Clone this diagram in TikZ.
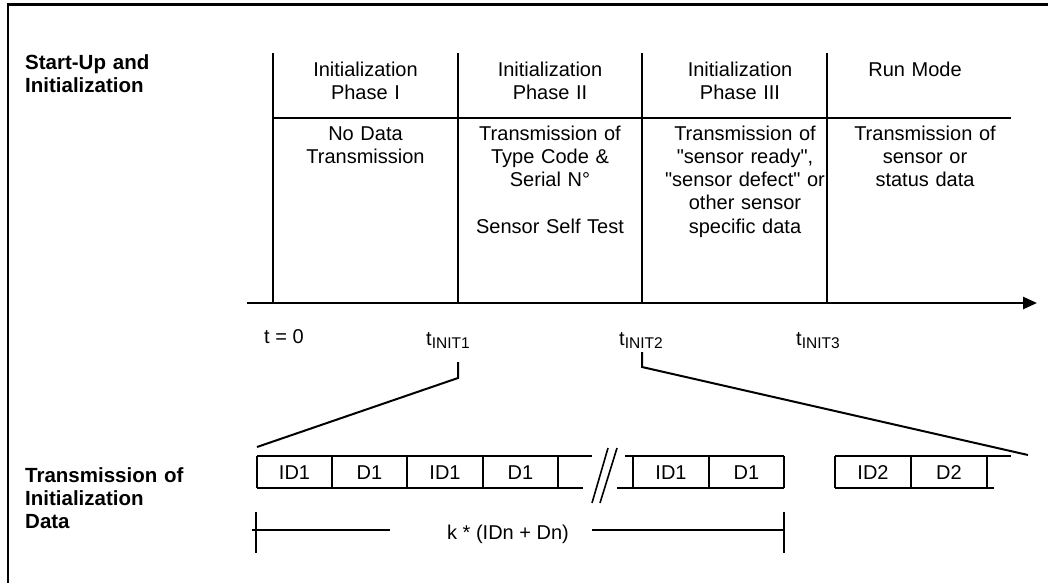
\documentclass[tikz,border=0pt]{standalone}
\usepackage{fontspec}
\setmainfont{Liberation Sans}[Ligatures=TeXOff]
\usetikzlibrary{arrows.meta}
\newcommand\tinitlabel[1]{t\raisebox{-3pt}{\fontsize{15.5}{15.5}\selectfont INIT#1}}
\begin{document}
\begin{tikzpicture}[x=1pt,y=-1pt,
  ln/.style={line width=2pt},
  txt/.style={font=\fontsize{20}{23.3}\selectfont, inner sep=0pt, anchor=base, align=center, text width=182pt},
  one/.style={font=\fontsize{20}{23.3}\selectfont, inner sep=0pt, anchor=base},
  lbl/.style={font=\bfseries\fontsize{20.5}{23}\selectfont, inner sep=0pt, anchor=base west, align=left, text width=220pt},
]
\useasboundingbox (0,0) rectangle (1048,582);
% frame
\draw[line width=2.5pt] (8,583) -- (8,4.5) -- (1049,4.5);
% side labels
\node[lbl] (lab1) at (25,69) {Start-Up and\\Initialization};
\node[lbl] (lab2) at (25,482) {Transmission of\\Initialization\\Data};
% table
\coordinate (v1t) at (273,53); \coordinate (v1b) at (273,303);
\coordinate (v2t) at (458,53); \coordinate (v2b) at (458,303);
\coordinate (v3t) at (642,53); \coordinate (v3b) at (642,303);
\coordinate (v4t) at (827,53); \coordinate (v4b) at (827,303);
\coordinate (rl) at (273,118); \coordinate (rr) at (1011,118);
\draw[ln] (v1t) -- (v1b) (v2t) -- (v2b) (v3t) -- (v3b) (v4t) -- (v4b);
\draw[ln] (rl) -- (rr);
\coordinate (ax0) at (247,303); \coordinate (ax1) at (1037,303);
\draw[line width=2.5pt, -{Triangle[length=14pt,width=12pt]}] (ax0) -- (ax1);
% table texts
\node[txt] (p1h) at (365.5,76) {Initialization\\Phase I};
\node[txt] (p2h) at (550,76) {Initialization\\Phase II};
\node[txt] (p3h) at (740,76) {Initialization\\Phase III};
\node[txt] (p4h) at (915,76) {Run Mode};
\node[txt] (p1d) at (365.5,140) {No Data\\Transmission};
\node[txt] (p2d) at (550,140) {Transmission of\\Type Code \&\\Serial N°\\[23.3pt]Sensor Self Test};
\node[txt] (p3d) at (745,140) {Transmission of\\"sensor ready",\\"sensor defect" or\\other sensor\\specific data};
\node[txt] (p4d) at (925,140) {Transmission of\\sensor or\\status data};
% time labels
\node[one, anchor=base west] (t0) at (264,343) {t = 0};
\node[one, anchor=base west] (t1) at (426,345) {\tinitlabel{1}};
\node[one, anchor=base west] (t2) at (619,345) {\tinitlabel{2}};
\node[one, anchor=base west] (t3) at (796,345) {\tinitlabel{3}};
% zoom connectors
\coordinate (z1a) at (458,362); \coordinate (z1b) at (458,378); \coordinate (z1c) at (257,447);
\coordinate (z2a) at (642,352); \coordinate (z2b) at (642,367); \coordinate (z2c) at (1028,455);
\draw[ln] (z1a) -- (z1b) -- (z1c);
\draw[ln] (z2a) -- (z2b) -- (z2c);
% frame row segment 1
\draw[ln] (257,456) -- (592,456);
\draw[ln] (257,488) -- (583,488);
\foreach \x in {257,332,407,483,558} \draw[ln] (\x,456) -- (\x,488);
% break marks
\draw[line width=1.6pt] (592,503) -- (608,448);
\draw[line width=1.6pt] (600,503) -- (617,448);
% segment 2
\draw[ln] (625,456) -- (784,456);
\draw[ln] (617,488) -- (784,488);
\foreach \x in {633,709,784} \draw[ln] (\x,456) -- (\x,488);
% segment 3
\draw[ln] (835,456) -- (1011,456);
\draw[ln] (835,488) -- (994,488);
\foreach \x in {835,911,987} \draw[ln] (\x,456) -- (\x,488);
% cell texts
\node[one] (c1) at (294.5,479) {ID1};
\node[one] (c2) at (369.5,479) {D1};
\node[one] (c3) at (445,479) {ID1};
\node[one] (c4) at (520.5,479) {D1};
\node[one] (c5) at (671,479) {ID1};
\node[one] (c6) at (746.5,479) {D1};
\node[one] (c7) at (873,479) {ID2};
\node[one] (c8) at (949,479) {D2};
% dimension
\coordinate (dl1) at (256,512); \coordinate (dl2) at (256,553);
\coordinate (dr1) at (784,512); \coordinate (dr2) at (784,553);
\coordinate (da) at (252,530); \coordinate (db) at (390,530);
\coordinate (dc) at (592,530); \coordinate (dd) at (784,530);
\draw[line width=1.4pt] (dl1) -- (dl2) (dr1) -- (dr2);
\draw[line width=1.4pt] (da) -- (db) (dc) -- (dd);
\node[one] (kk) at (508,539) {k * (IDn + Dn)};
\end{tikzpicture}
\end{document}
